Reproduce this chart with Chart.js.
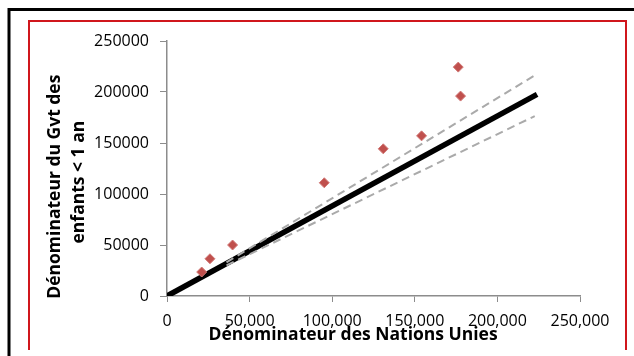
<!DOCTYPE html>
<html>
<head>
<meta charset="utf-8">
<script src="https://cdn.jsdelivr.net/npm/chart.js@4"></script>
<style>
  body { margin: 0; background: #fff; }
  #wrap { width: 634px; height: 356px; }
</style>
</head>
<body>
<div id="wrap"><canvas id="chart" width="634" height="356"></canvas></div>
<script>
'use strict';

// points: UN denominator vs government denominator
var unDenom = [21000, 26000, 39700, 95200, 130900, 154100, 176300, 177700];
var gvtDenom = [23500, 36500, 50000, 111000, 144300, 157000, 224400, 196000];

// fitted line and its dashed band
var trendX = [0, 224000];
var trendY = [0, 197700];
var upperX = [36000, 223700];
var upperY = [33000, 217300];
var lowerX = [36000, 222600];
var lowerY = [30000, 176400];

var xTicks = [0, 50000, 100000, 150000, 200000, 250000];
var yTicks = [0, 50000, 100000, 150000, 200000, 250000];

var xTitle = 'Dénominateur des Nations Unies';
var yTitle = ['Dénominateur du Gvt des', 'enfants < 1 an'];

function toPoints(xs, ys) {
  var out = [];
  for (var i = 0; i < xs.length; i++) {
    out.push({x: xs[i], y: ys[i]});
  }
  return out;
}

// trailing spaces nudge the centred titles the way the original sits
function pad(text, n) {
  return text + '\u00a0'.repeat(n);
}

var frame = {
  id: 'frame',
  beforeDraw: function(chart) {
    var ctx = chart.ctx;
    ctx.save();
    ctx.fillStyle = '#fff';
    ctx.fillRect(0, 0, chart.width, chart.height);
    ctx.strokeStyle = '#000';
    ctx.lineWidth = 3;
    ctx.beginPath();
    ctx.moveTo(9, 360);
    ctx.lineTo(9, 9.5);
    ctx.lineTo(640, 9.5);
    ctx.stroke();
    ctx.strokeStyle = '#d0161c';
    ctx.lineWidth = 2;
    ctx.beginPath();
    ctx.moveTo(29, 350);
    ctx.lineTo(29, 21);
    ctx.lineTo(626, 21);
    ctx.lineTo(626, 350);
    ctx.stroke();
    ctx.restore();
  }
};

var tickFont = {family: '"Open Sans"', size: 16};
var titleFont = {family: '"Open Sans"', size: 17.5, weight: 'bold', lineHeight: 1.37};

new Chart(document.getElementById('chart'), {
  type: 'scatter',
  data: {
    datasets: [
      {
        type: 'line',
        data: toPoints(trendX, trendY),
        borderColor: '#000',
        borderWidth: 5.5,
        pointRadius: 0,
        order: 3
      },
      {
        type: 'line',
        data: toPoints(upperX, upperY),
        borderColor: '#aaaaaa',
        borderWidth: 2,
        borderDash: [8, 5],
        pointRadius: 0,
        order: 2
      },
      {
        type: 'line',
        data: toPoints(lowerX, lowerY),
        borderColor: '#aaaaaa',
        borderWidth: 2,
        borderDash: [8, 5],
        pointRadius: 0,
        order: 2
      },
      {
        data: toPoints(unDenom, gvtDenom),
        pointStyle: 'rectRot',
        pointRadius: 5,
        backgroundColor: '#c0504d',
        borderColor: '#d27a78',
        borderWidth: 1,
        order: 1
      }
    ]
  },
  options: {
    responsive: false,
    animation: false,
    layout: {padding: {left: 39, right: 54, top: 41, bottom: 0}},
    plugins: {legend: {display: false}, tooltip: {enabled: false}},
    scales: {
      x: {
        type: 'linear',
        min: 0,
        max: 250000,
        afterBuildTicks: function(scale) {
          scale.ticks = xTicks.map(function(v) { return {value: v}; });
        },
        afterFit: function(scale) { scale.height = 60; },
        grid: {drawOnChartArea: false, tickLength: 6, color: '#8c8c8c'},
        border: {color: '#8c8c8c', width: 1.5},
        ticks: {
          font: tickFont,
          color: '#000',
          padding: 10,
          maxRotation: 0,
          callback: function(v) { return v.toLocaleString('en-US'); }
        },
        title: {
          display: true,
          text: pad(xTitle, 9),
          font: titleFont,
          color: '#000',
          padding: {top: 0, bottom: 9}
        }
      },
      y: {
        type: 'linear',
        min: 0,
        max: 250000,
        afterBuildTicks: function(scale) {
          scale.ticks = yTicks.map(function(v) { return {value: v}; });
        },
        afterFit: function(scale) { scale.width = 128; },
        grid: {drawOnChartArea: false, tickLength: 7, color: '#8c8c8c'},
        border: {color: '#8c8c8c', width: 1.5},
        ticks: {
          font: tickFont,
          color: '#000',
          padding: 11,
          callback: function(v) { return String(v); }
        },
        title: {
          display: true,
          text: [pad(yTitle[0], 8), pad(yTitle[1], 6)],
          font: titleFont,
          color: '#000',
          padding: {top: 4, bottom: 0}
        }
      }
    }
  },
  plugins: [frame]
});
</script>
</body>
</html>
